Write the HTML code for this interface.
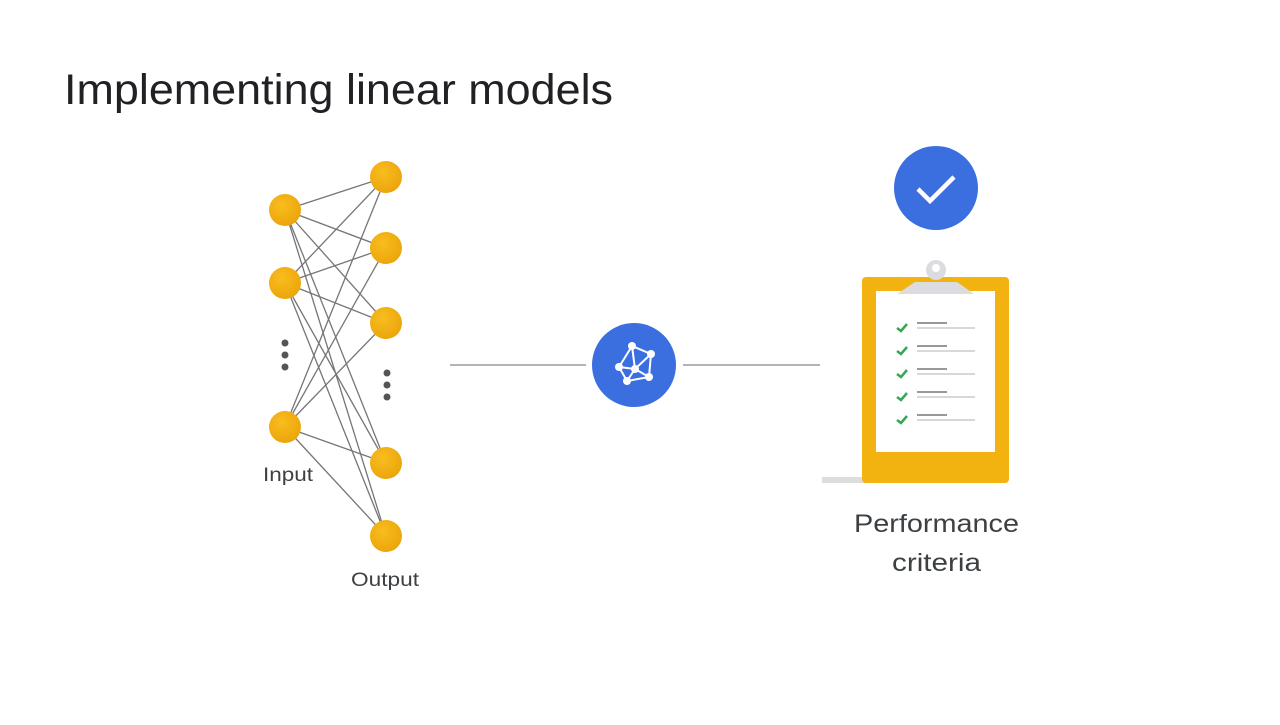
<!DOCTYPE html>
<html><head><style>
body{margin:0;width:1280px;height:720px;background:#fff;overflow:hidden;font-family:"Liberation Sans",sans-serif;}
</style></head><body>
<svg width="1280" height="720" xmlns="http://www.w3.org/2000/svg">
<defs>
<radialGradient id="g" cx="0.4" cy="0.35" r="0.7"><stop offset="0" stop-color="#f8bd1e"/><stop offset="1" stop-color="#eba40b"/></radialGradient>
</defs>
<text x="64" y="104" font-size="43" fill="#202124" textLength="549" lengthAdjust="spacingAndGlyphs" font-family="Liberation Sans, sans-serif">Implementing linear models</text>
<g stroke="#757575" stroke-width="1.3">
<line x1="285" y1="210" x2="386" y2="177"/><line x1="285" y1="210" x2="386" y2="248"/><line x1="285" y1="210" x2="386" y2="323"/><line x1="285" y1="210" x2="386" y2="463"/><line x1="285" y1="210" x2="386" y2="536"/>
<line x1="285" y1="283" x2="386" y2="177"/><line x1="285" y1="283" x2="386" y2="248"/><line x1="285" y1="283" x2="386" y2="323"/><line x1="285" y1="283" x2="386" y2="463"/><line x1="285" y1="283" x2="386" y2="536"/>
<line x1="285" y1="427" x2="386" y2="177"/><line x1="285" y1="427" x2="386" y2="248"/><line x1="285" y1="427" x2="386" y2="323"/><line x1="285" y1="427" x2="386" y2="463"/><line x1="285" y1="427" x2="386" y2="536"/>
</g>
<g fill="url(#g)">
<circle cx="285" cy="210" r="16"/><circle cx="285" cy="283" r="16"/><circle cx="285" cy="427" r="16"/>
<circle cx="386" cy="177" r="16"/><circle cx="386" cy="248" r="16"/><circle cx="386" cy="323" r="16"/><circle cx="386" cy="463" r="16"/><circle cx="386" cy="536" r="16"/>
</g>
<g fill="#555"><circle cx="285" cy="343" r="3.5"/><circle cx="285" cy="355" r="3.5"/><circle cx="285" cy="367" r="3.5"/>
<circle cx="387" cy="373" r="3.5"/><circle cx="387" cy="385" r="3.5"/><circle cx="387" cy="397" r="3.5"/></g>
<text x="263" y="481" font-size="19" fill="#3c4043" textLength="50" lengthAdjust="spacingAndGlyphs">Input</text>
<text x="351" y="586" font-size="19" fill="#3c4043" textLength="68" lengthAdjust="spacingAndGlyphs">Output</text>
<line x1="450" y1="365" x2="586" y2="365" stroke="#888" stroke-width="1.3"/>
<line x1="683" y1="365" x2="820" y2="365" stroke="#888" stroke-width="1.3"/>
<circle cx="634" cy="365" r="42" fill="#3b6fe0"/>
<g stroke="#fff" stroke-width="2" fill="none">
<polyline points="632,346 651,354 649,377 627,381 619,367 632,346 635,369 651,354"/>
<line x1="619" y1="367" x2="635" y2="369"/><line x1="635" y1="369" x2="649" y2="377"/><line x1="635" y1="369" x2="627" y2="381"/>
</g>
<g fill="#fff"><circle cx="632" cy="346" r="4"/><circle cx="651" cy="354" r="4"/><circle cx="649" cy="377" r="4"/><circle cx="627" cy="381" r="4"/><circle cx="619" cy="367" r="4"/><circle cx="635" cy="369" r="4"/></g>
<circle cx="936" cy="188" r="42" fill="#3b6fe0"/>
<polyline points="918,189 930,201 954,177" stroke="#fff" stroke-width="4.5" fill="none"/>
<rect x="822" y="477" width="45" height="6" fill="#ddd"/>
<rect x="862" y="277" width="147" height="206" rx="4" fill="#f2b310"/>
<rect x="876" y="291" width="119" height="161" fill="#fff"/>
<circle cx="936" cy="270" r="10" fill="#dadce0"/>
<circle cx="936" cy="268" r="4" fill="#fff"/>
<path d="M915 282 L957 282 L974 294 L897 294 Z" fill="#dadce0"/>
<g stroke="#34a853" stroke-width="2.5" fill="none">
<polyline points="897,328 901,331 907,324"/><polyline points="897,351 901,354 907,347"/><polyline points="897,374 901,377 907,370"/><polyline points="897,397 901,400 907,393"/><polyline points="897,420 901,423 907,416"/>
</g>
<g stroke-width="1.5">
<g stroke="#777"><line x1="917" y1="323" x2="947" y2="323"/><line x1="917" y1="346" x2="947" y2="346"/><line x1="917" y1="369" x2="947" y2="369"/><line x1="917" y1="392" x2="947" y2="392"/><line x1="917" y1="415" x2="947" y2="415"/></g>
<g stroke="#ccc"><line x1="917" y1="328" x2="975" y2="328"/><line x1="917" y1="351" x2="975" y2="351"/><line x1="917" y1="374" x2="975" y2="374"/><line x1="917" y1="397" x2="975" y2="397"/><line x1="917" y1="420" x2="975" y2="420"/></g>
</g>
<text x="854" y="532" font-size="25" fill="#3c4043" textLength="165" lengthAdjust="spacingAndGlyphs">Performance</text>
<text x="892" y="571" font-size="25" fill="#3c4043" textLength="89" lengthAdjust="spacingAndGlyphs">criteria</text>
</svg>
</body></html>
